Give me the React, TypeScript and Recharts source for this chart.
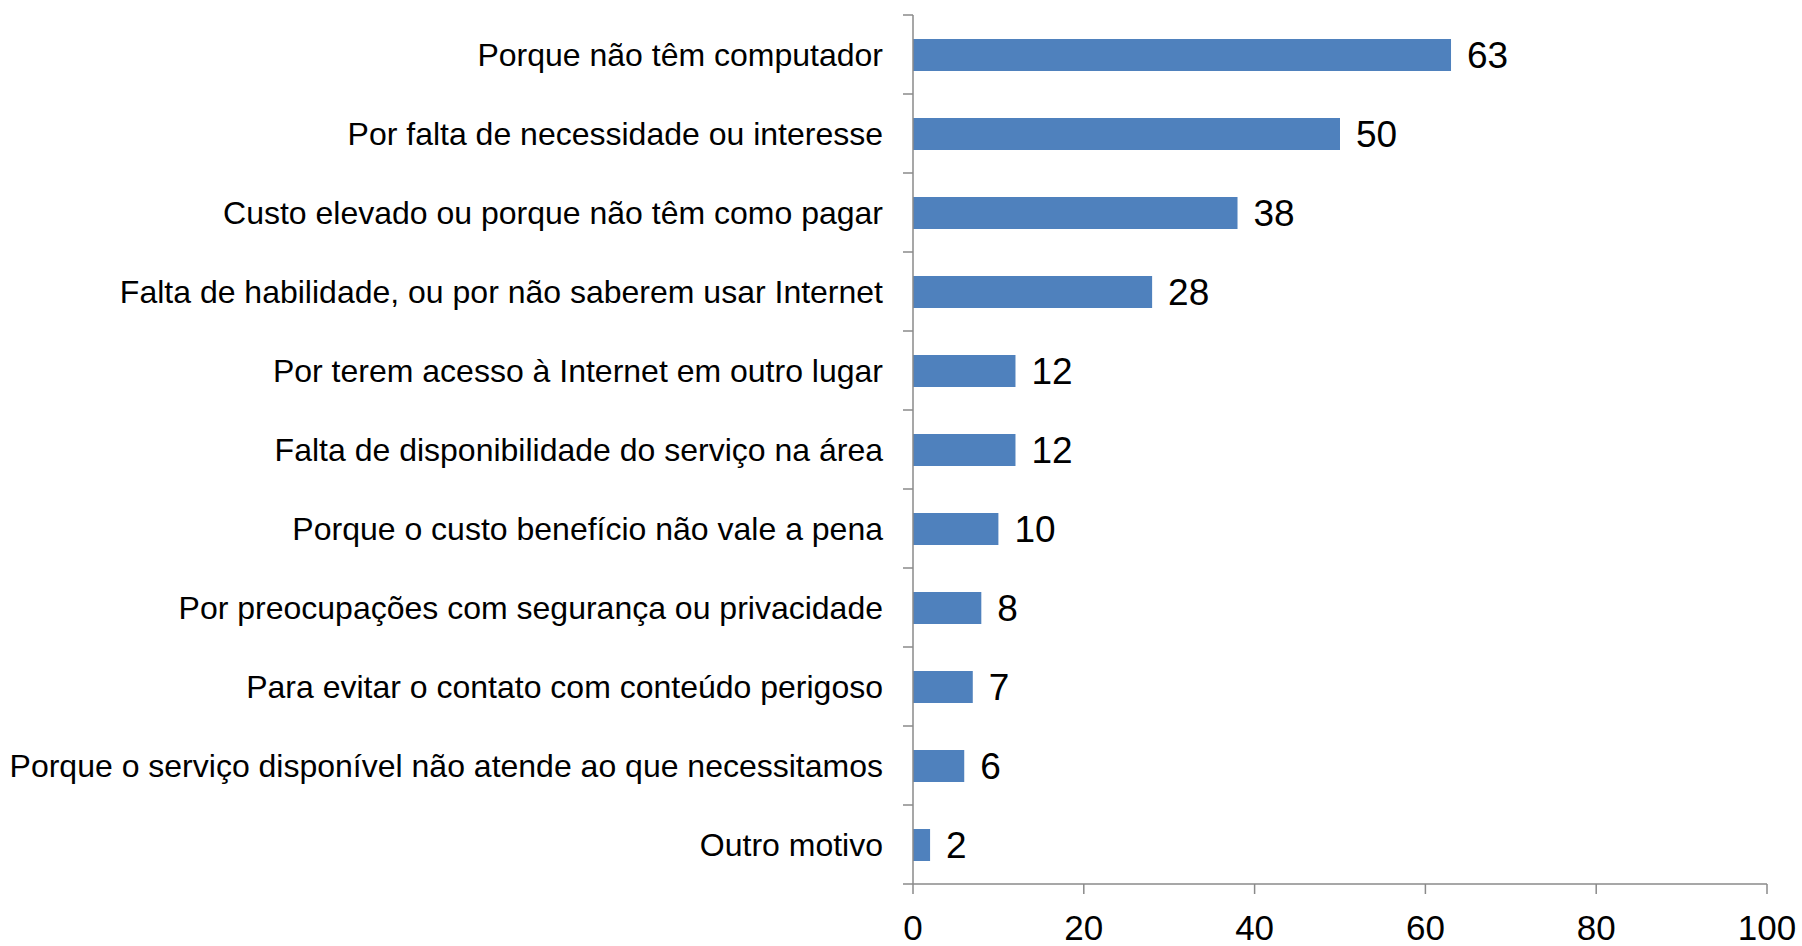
import React from "react";
import { BarChart, Bar, XAxis, YAxis, LabelList } from "recharts";

const categories: string[] = [
  "Porque não têm computador",
  "Por falta de necessidade ou interesse",
  "Custo elevado ou porque não têm como pagar",
  "Falta de habilidade, ou por não saberem usar Internet",
  "Por terem acesso à Internet em outro lugar",
  "Falta de disponibilidade do serviço na área",
  "Porque o custo benefício não vale a pena",
  "Por preocupações com segurança ou privacidade",
  "Para evitar o contato com conteúdo perigoso",
  "Porque o serviço disponível não atende ao que necessitamos",
  "Outro motivo",
];
const values: number[] = [63, 50, 38, 28, 12, 12, 10, 8, 7, 6, 2];
const xTicks: number[] = [0, 20, 40, 60, 80, 100];

const data = categories.map((name, i) => ({ name, value: values[i] }));

const W = 1802;
const H = 946;
const MARGIN = { top: 15, right: 35, bottom: 0, left: 0 };
const Y_AXIS_W = 913;
const X_AXIS_H = 62;
const PLOT_H = H - MARGIN.top - MARGIN.bottom - X_AXIS_H;
const HALF_BAND = PLOT_H / categories.length / 2;
const AXIS_COLOR = "#8a8a8a";
const FONT = "'Liberation Sans', Arial, sans-serif";

const CategoryTick = (props: any) => {
  const { y, payload, index } = props;
  const ax = MARGIN.left + Y_AXIS_W;
  return (
    <g>
      <line x1={ax - 10} x2={ax} y1={y - HALF_BAND} y2={y - HALF_BAND} stroke={AXIS_COLOR} strokeWidth={1.5} />
      {index === categories.length - 1 ? (
        <line x1={ax - 10} x2={ax} y1={y + HALF_BAND} y2={y + HALF_BAND} stroke={AXIS_COLOR} strokeWidth={1.5} />
      ) : null}
      <text
        x={ax - 30}
        y={y}
        dy="0.35em"
        textAnchor="end"
        fill="#000"
        fontSize={32}
        fontFamily={FONT}
      >
        {payload.value}
      </text>
    </g>
  );
};

export default function App() {
  return (
    <div style={{ position: "absolute", left: 0, top: 0, width: W, height: H, background: "#fff" }}>
      <BarChart width={W} height={H} data={data} layout="vertical" margin={MARGIN}>
        <XAxis
          type="number"
          domain={[0, 100]}
          ticks={xTicks}
          interval={0}
          height={X_AXIS_H}
          axisLine={{ stroke: AXIS_COLOR, strokeWidth: 1.5 }}
          tickLine={{ stroke: AXIS_COLOR, strokeWidth: 1.5 }}
          tickSize={10}
          tickMargin={21}
          tick={{ fill: "#000", fontSize: 35, fontFamily: FONT }}
        />
        <YAxis
          type="category"
          dataKey="name"
          width={Y_AXIS_W}
          interval={0}
          axisLine={{ stroke: AXIS_COLOR, strokeWidth: 1.5 }}
          tickLine={false}
          tick={<CategoryTick />}
        />
        <Bar dataKey="value" fill="#4F81BD" barSize={32} isAnimationActive={false}>
          <LabelList
            dataKey="value"
            position="right"
            offset={16}
            fill="#000"
            fontSize={37}
            fontFamily={FONT}
          />
        </Bar>
      </BarChart>
    </div>
  );
}
